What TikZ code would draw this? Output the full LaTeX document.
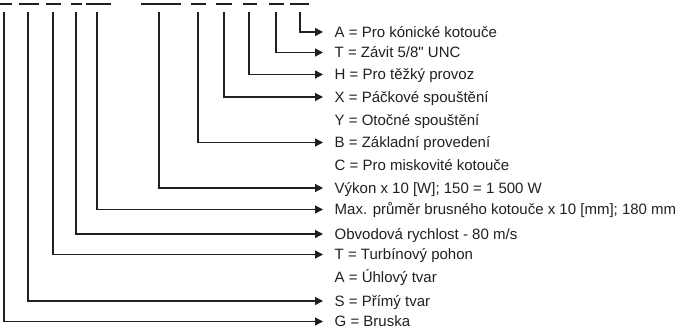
\documentclass[tikz,border=0pt]{standalone}
\usepackage{fontspec}
\setmainfont{Liberation Sans}
\usetikzlibrary{arrows.meta}
\definecolor{ink}{RGB}{35,31,32}
\tikzset{
    codebar/.style = {draw=ink, line width=2.4pt},
    codearrow/.style = {draw=ink, line width=1.3pt, -{Triangle[length=8pt, width=8pt]}},
    codelabel/.style = {anchor=west, inner xsep=11.5pt, inner ysep=0pt, text height=10.7pt, text depth=0pt,
        text=ink, font=\fontsize{15}{18}\selectfont}
}
\begin{document}
\begin{tikzpicture}[x=1pt, y=-1pt]
                \useasboundingbox (0,0) rectangle (684,331);
                % code positions
                \draw[codebar] (0,4) -- (12,4);
                \draw[codebar] (19,4) -- (39,4);
                \draw[codebar] (46,4) -- (61,4);
                \draw[codebar] (71,4) -- (82,4);
                \draw[codebar] (86,4) -- (111,4);
                \draw[codebar] (141,4) -- (181,4);
                \draw[codebar] (191,4) -- (206,4);
                \draw[codebar] (216,4) -- (232,4);
                \draw[codebar] (243,4) -- (257,4);
                \draw[codebar] (269,4) -- (284,4);
                \draw[codebar] (290,4) -- (309,4);
                \coordinate (pG) at (4,12);
                \coordinate (pS) at (28,12);
                \coordinate (pTu) at (53,12);
                \coordinate (pObv) at (76,12);
                \coordinate (pMax) at (97,12);
                \coordinate (pVyk) at (159,12);
                \coordinate (pB) at (198,12);
                \coordinate (pX) at (224,12);
                \coordinate (pH) at (249,12);
                \coordinate (pTz) at (276,12);
                \coordinate (pA) at (300,12);
                % meanings
                \node[codelabel] (lA) at (323,32) {A = Pro kónické kotouče};
                \node[codelabel] (lTz) at (323,52.5) {T = Závit 5/8\textquotedbl{} UNC};
                \node[codelabel] (lH) at (323,74.5) {H = Pro těžký provoz};
                \node[codelabel] (lX) at (323,97) {X = Páčkové spouštění};
                \node[codelabel] (lY) at (323,120) {Y = Otočné spouštění};
                \node[codelabel] (lB) at (323,142.5) {B = Základní provedení};
                \node[codelabel] (lC) at (323,165) {C = Pro miskovité kotouče};
                \node[codelabel] (lVyk) at (323,188) {Výkon x 10 [W]; 150 = 1 500 W};
                \node[codelabel] (lMax) at (323,209.5) {Max. průměr brusného kotouče x 10 [mm]; 180 mm};
                \node[codelabel] (lObv) at (323,234) {Obvodová rychlost - 80 m/s};
                \node[codelabel] (lTu) at (323,254.5) {T = Turbínový pohon};
                \node[codelabel] (lU) at (323,277.5) {A = Úhlový tvar};
                \node[codelabel] (lS) at (323,301) {S = Přímý tvar};
                \node[codelabel] (lG) at (323,321.5) {G = Bruska};
                % connectors
                \draw[codearrow] (pA) |- (lA.west);
                \draw[codearrow] (pTz) |- (lTz.west);
                \draw[codearrow] (pH) |- (lH.west);
                \draw[codearrow] (pX) |- (lX.west);
                \draw[codearrow] (pB) |- (lB.west);
                \draw[codearrow] (pVyk) |- (lVyk.west);
                \draw[codearrow] (pMax) |- (lMax.west);
                \draw[codearrow] (pObv) |- (lObv.west);
                \draw[codearrow] (pTu) |- (lTu.west);
                \draw[codearrow] (pS) |- (lS.west);
                \draw[codearrow] (pG) |- (lG.west);
            \end{tikzpicture}
\end{document}
